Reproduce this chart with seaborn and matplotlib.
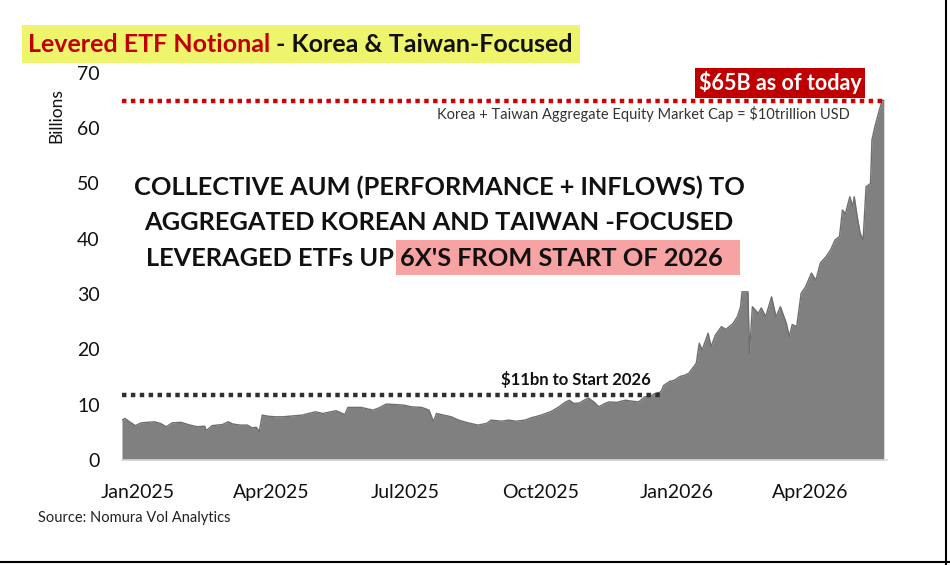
import numpy as np
import pandas as pd
import matplotlib
matplotlib.use("Agg")
import matplotlib.pyplot as plt
import matplotlib.dates as mdates
import matplotlib.transforms as mtransforms
from matplotlib.lines import Line2D
from matplotlib.patches import Rectangle
import seaborn as sns

# ---------------- data ----------------
dates = [
    "2025-01-01", "2025-01-03", "2025-01-05", "2025-01-10", "2025-01-14", "2025-01-23",
    "2025-01-27", "2025-01-31", "2025-02-04", "2025-02-10", "2025-02-16", "2025-02-21",
    "2025-02-26", "2025-02-27", "2025-03-03", "2025-03-10", "2025-03-14", "2025-03-17",
    "2025-03-22", "2025-03-27", "2025-03-30", "2025-04-02", "2025-04-04", "2025-04-06",
    "2025-04-10", "2025-04-15", "2025-04-20", "2025-05-03", "2025-05-12", "2025-05-17",
    "2025-05-26", "2025-06-01", "2025-06-03", "2025-06-12", "2025-06-20", "2025-06-24",
    "2025-06-29", "2025-07-06", "2025-07-11", "2025-07-16", "2025-07-23", "2025-07-28",
    "2025-07-31", "2025-08-02", "2025-08-07", "2025-08-12", "2025-08-17", "2025-08-22",
    "2025-08-30", "2025-09-05", "2025-09-08", "2025-09-15", "2025-09-20", "2025-09-25",
    "2025-10-01", "2025-10-05", "2025-10-12", "2025-10-19", "2025-10-24", "2025-10-28",
    "2025-10-31", "2025-11-03", "2025-11-07", "2025-11-10", "2025-11-13", "2025-11-17",
    "2025-11-20", "2025-11-24", "2025-11-27", "2025-12-02", "2025-12-08", "2025-12-13",
    "2025-12-17", "2025-12-21", "2025-12-25", "2025-12-28", "2026-01-01", "2026-01-03",
    "2026-01-07", "2026-01-10", "2026-01-14", "2026-01-17", "2026-01-20", "2026-01-25",
    "2026-01-27", "2026-01-29", "2026-02-02", "2026-02-04", "2026-02-07", "2026-02-11",
    "2026-02-14", "2026-02-19", "2026-02-22", "2026-02-24", "2026-02-25", "2026-03-01",
    "2026-03-02", "2026-03-04", "2026-03-08", "2026-03-10", "2026-03-13", "2026-03-17",
    "2026-03-20", "2026-03-23", "2026-03-27", "2026-03-29", "2026-03-31", "2026-04-03",
    "2026-04-06", "2026-04-09", "2026-04-13", "2026-04-16", "2026-04-19", "2026-04-23",
    "2026-04-26", "2026-04-29", "2026-05-02", "2026-05-04", "2026-05-06", "2026-05-09",
    "2026-05-11", "2026-05-12", "2026-05-14", "2026-05-16", "2026-05-18", "2026-05-20",
    "2026-05-23", "2026-05-24", "2026-05-26", "2026-05-29", "2026-05-31", "2026-06-01",
]
notional_bn = [
    7.2, 7.5, 7.1, 6.2, 6.7, 6.9,
    6.6, 6.0, 6.7, 6.8, 6.3, 6.0,
    6.1, 5.3, 6.2, 6.4, 6.9, 6.5,
    6.3, 6.3, 5.8, 5.9, 5.1, 8.1,
    7.9, 7.8, 7.8, 8.1, 8.7, 8.4,
    8.9, 8.2, 9.5, 9.5, 9.0, 9.4,
    10.1, 10.0, 9.9, 9.6, 9.5, 9.0,
    6.9, 8.4, 8.1, 7.8, 7.2, 6.8,
    6.3, 6.6, 7.2, 7.0, 7.2, 7.0,
    7.2, 7.6, 8.1, 8.8, 9.6, 10.4,
    10.8, 10.2, 10.3, 10.8, 11.2, 10.4,
    9.6, 10.2, 10.5, 10.4, 10.8, 10.6,
    10.5, 11.4, 11.6, 12.0, 12.3, 13.5,
    14.2, 14.4, 15.1, 15.3, 15.7, 17.5,
    21.1, 19.9, 22.9, 20.5, 22.6, 24.1,
    23.6, 24.7, 26.0, 27.7, 30.4, 30.4,
    19.3, 27.7, 26.5, 27.5, 25.9, 29.5,
    25.9, 27.7, 24.7, 22.3, 24.5, 24.1,
    30.1, 31.3, 33.8, 32.5, 35.6, 36.8,
    38.0, 39.8, 40.4, 45.2, 44.5, 47.6,
    45.8, 47.6, 44.0, 41.0, 39.8, 49.4,
    50.0, 57.9, 60.3, 63.3, 65.1, 65.0,
]
current_level = 65.0
start_2026_level = 11.8
x_tick_dates = ["2025-01-01", "2025-04-01", "2025-07-01", "2025-10-01", "2026-01-01", "2026-04-01"]
y_ticks = [0, 10, 20, 30, 40, 50, 60, 70]

df = pd.DataFrame({"date": pd.to_datetime(dates), "notional": notional_bn})

# ---------------- style ----------------
sns.set_theme(style="white")
plt.rcParams["font.family"] = ["Lato", "DejaVu Sans"]

fig = plt.figure(figsize=(9.5, 5.65), dpi=100)
ax = fig.add_axes([0.1284, 0.186, 0.805, 0.685])

sns.lineplot(data=df, x="date", y="notional", ax=ax, color="#6e6e6e", linewidth=1.0)
ax.fill_between(df["date"], 0, df["notional"], color="#808080", linewidth=0)

x0 = pd.Timestamp("2025-01-01")
x_end = pd.Timestamp("2026-06-03")
ax.set_xlim(x0, x_end)
ax.set_ylim(0, 70)

# reference lines
ax.plot([x0, df["date"].iloc[-1]], [current_level, current_level], color="#d40000",
        linewidth=3.2, linestyle=(0, (1.0, 1.0)), dash_capstyle="butt")
ax.plot([x0, pd.Timestamp("2026-01-01")], [start_2026_level, start_2026_level], color="#2f2f2f",
        linewidth=3.2, linestyle=(0, (1.0, 1.0)), dash_capstyle="butt")

# axes styling
ax.set_xticks(pd.to_datetime(x_tick_dates))
ax.xaxis.set_major_formatter(mdates.DateFormatter("%b%Y"))
ax.set_yticks(y_ticks)
ax.tick_params(axis="x", labelsize=14, colors="#d9d9d9", length=5, width=1, pad=12, labelcolor="#111111")
ax.tick_params(axis="y", labelsize=14, length=0, pad=16, labelcolor="#111111")
offset = mtransforms.ScaledTranslation(16 / 100, 0, fig.dpi_scale_trans)
for lab in ax.get_xticklabels():
    lab.set_transform(lab.get_transform() + offset)
for s in ["top", "right", "left"]:
    ax.spines[s].set_visible(False)
ax.spines["bottom"].set_color("#d9d9d9")
ax.spines["bottom"].set_linewidth(1.2)
ax.set_xlabel("")
ax.set_ylabel("Billions", fontsize=12.5, color="#111111", labelpad=6)
ax.yaxis.set_label_coords(-0.075, 0.89)
ax.grid(False)

# ---------------- annotations ----------------
# title with yellow highlight
fig.patches.append(Rectangle((22 / 950, 1 - 63 / 565), 558 / 950, 38 / 565,
                             transform=fig.transFigure, facecolor="#eef56c", edgecolor="none", zorder=0))
t1 = fig.text(28 / 950, 1 - 44 / 565, "Levered ETF Notional", color="#c00000",
              fontsize=18, fontweight="bold", va="center", ha="left")
fig.canvas.draw()
bb = t1.get_window_extent()
fig.text(bb.x1 / 950, 1 - 44 / 565, " - Korea & Taiwan-Focused", color="#111111",
         fontsize=18, fontweight="bold", va="center", ha="left")

# $65B box
fig.text(780 / 950, 1 - 83 / 565, "$65B as of today", color="white", fontsize=15.5, fontweight="bold",
         ha="center", va="center",
         bbox=dict(boxstyle="square,pad=0.15", facecolor="#c00000", edgecolor="none"))
fig.text(850 / 950, 1 - 114 / 565, "Korea + Taiwan Aggregate Equity Market Cap = $10trillion USD",
         color="#333333", fontsize=10.5, ha="right", va="center")

# big centred statement
cx = 439 / 950
fs_big = 18.3
fig.text(cx, 1 - 187 / 565, "COLLECTIVE AUM (PERFORMANCE + INFLOWS) TO", fontsize=fs_big,
         fontweight="bold", ha="center", va="center", color="#111111")
fig.text(cx, 1 - 223 / 565, "AGGREGATED KOREAN AND TAIWAN -FOCUSED", fontsize=fs_big,
         fontweight="bold", ha="center", va="center", color="#111111")
fig.patches.append(Rectangle((396 / 950, 1 - 275 / 565), 344 / 950, 35 / 565,
                             transform=fig.transFigure, facecolor="#f7a3a3", edgecolor="none", zorder=0))
fig.text(394 / 950, 1 - 259 / 565, "LEVERAGED ETFs UP", fontsize=fs_big,
         fontweight="bold", ha="right", va="center", color="#111111")
fig.text(400 / 950, 1 - 259 / 565, "6X'S FROM START OF 2026", fontsize=fs_big,
         fontweight="bold", ha="left", va="center", color="#111111")

# $11bn label
fig.text(576 / 950, 1 - 380 / 565, "$11bn to Start 2026", fontsize=12, fontweight="bold",
         ha="center", va="center", color="#111111")

# source
fig.text(38 / 950, 1 - 518 / 565, "Source: Nomura Vol Analytics", fontsize=10.5,
         ha="left", va="center", color="#222222")

# frame lines at right and bottom
fig.add_artist(Line2D([946 / 950, 946 / 950], [0, 1], transform=fig.transFigure, color="black", linewidth=1.5))
fig.add_artist(Line2D([0, 1], [3 / 565, 3 / 565], transform=fig.transFigure, color="black", linewidth=1.5))

fig.savefig("out.png", dpi=100)
